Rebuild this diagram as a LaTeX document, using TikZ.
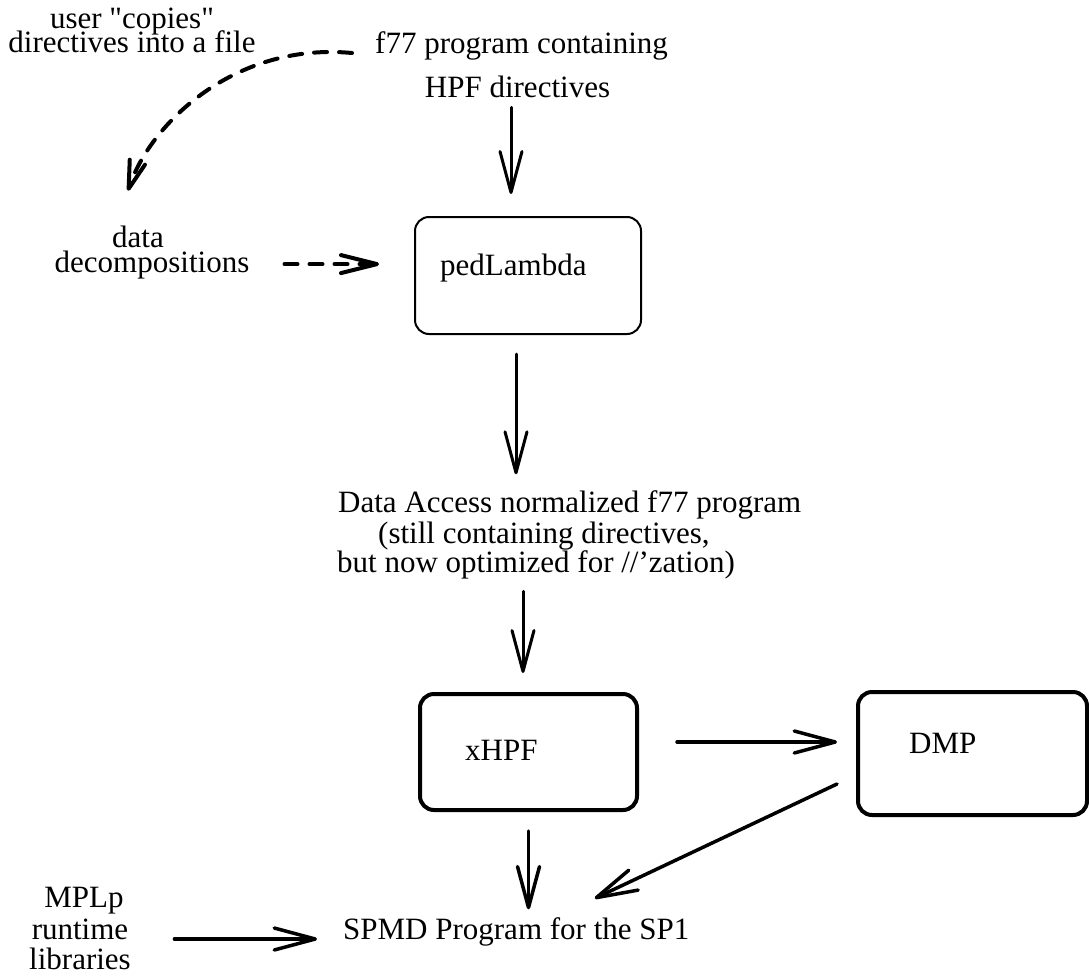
\documentclass[tikz,border=0pt]{standalone}
\usepackage{fontspec}
\setmainfont{Liberation Serif}
\newfontfamily\nomapfont{Liberation Serif}[Ligatures=TeXOff]
\usetikzlibrary{arrows.meta}
\begin{document}
\begin{tikzpicture}[x=1pt,y=-1pt,
  txt/.style={inner sep=0pt, text height=0.7em, text depth=0.22em, font=\fontsize{31pt}{36pt}\selectfont},
  tight/.style={txt, text height=0.66em, text depth=0.08em},
  thinbox/.style={draw, rounded corners=14pt, line width=2pt, inner sep=0pt},
  thickbox/.style={draw, rounded corners=14pt, line width=4pt, inner sep=0pt},
  arr/.style={line width=3pt, line cap=round, -{Straight Barb[length=41pt, width=22pt, round]}},
  darr/.style={line width=4pt, line cap=round, dash pattern=on 13pt off 12pt, -{Straight Barb[length=36pt, width=18pt, round]}},
  carr/.style={line width=4pt, line cap=round, dash pattern=on 13pt off 12pt, -{Straight Barb[length=28pt, width=16pt, round]}}]
\useasboundingbox (0,0) rectangle (1089,977);
% texts
\node[tight, anchor=base] (u1) at (132,28) {user {\nomapfont"}copies{\nomapfont"}};
\node[tight, anchor=base] (u2) at (132,52) {directives into a file};
\node[txt, anchor=base west] (f1) at (375,53) {f77 program containing};
\node[txt, anchor=base] (f2) at (517.5,97) {HPF directives};
\node[tight, anchor=base] (d1) at (138,247) {data};
\node[tight, anchor=base] (d2) at (152,272) {decompositions};
\node[txt, anchor=base west] (n1) at (338,512) {Data Access normalized f77 program};
\node[txt, anchor=base west] (n2) at (378,543) {(still containing directives,};
\node[txt, anchor=base west] (n3) at (337,572) {but now optimized for //'zation)};
\node[txt, anchor=base] (m1) at (84,907) {MPLp};
\node[txt, anchor=base] (m2) at (80,939) {runtime};
\node[txt, anchor=base] (m3) at (80,969) {libraries};
\node[txt, anchor=base west] (spmd) at (343,939) {SPMD Program for the SP1};
% boxes
\node[thinbox, minimum width=226pt, minimum height=117pt] (ped) at (528,275.5) {};
\node[txt, anchor=base west] (pedt) at (440,275) {pedLambda};
\node[thickbox, minimum width=217pt, minimum height=116pt] (xhpf) at (528.5,752) {};
\node[txt, anchor=base west] (xhpft) at (465,760) {xHPF};
\node[thickbox, minimum width=229pt, minimum height=123pt] (dmp) at (972.5,753.5) {};
\node[txt, anchor=base west] (dmpt) at (909,753) {DMP};
% connectors
\draw[arr, shorten <=8pt, shorten >=22pt] ([xshift=-6.5pt]f2.south) -- ([xshift=-17pt]ped.north);
\draw[arr, shorten <=19pt, shorten >=30.5pt] ([xshift=-12pt]ped.south) -- ([xshift=-12pt]ped.south |- n1.north);
\draw[arr, shorten <=17pt, shorten >=19pt] ([xshift=-5.5pt]xhpf.north |- n3.south) -- ([xshift=-5.5pt]xhpf.north);
\draw[arr, line width=3.5pt, shorten <=19pt, shorten >=22.5pt] (xhpf.south) -- (xhpf.south |- spmd.north);
\draw[arr, line width=3.5pt, shorten <=38pt, shorten >=19pt] ([yshift=10pt]xhpf.east) -- ([yshift=10pt]xhpf.east -| dmp.west);
\draw[arr, line width=3.5pt] ([shift={(-19,30.5)}]dmp.west) -- ([shift={(78.5,-33.4)}]spmd.north);
\draw[arr, line width=3.5pt, shorten <=46pt, shorten >=26pt] ([yshift=-2.4pt]m2.east) -- ([yshift=-2.4pt]spmd.west);
\draw[darr, shorten <=35pt, shorten >=35pt] ([yshift=5pt]d2.east) -- ([yshift=5pt]d2.east -| ped.west);
\draw[carr] ([xshift=-23pt]f1.base west) .. controls +(-117,-11) and +(22,-67) .. ([shift={(-10,-49.5)}]d1.north);
\end{tikzpicture}
\end{document}
